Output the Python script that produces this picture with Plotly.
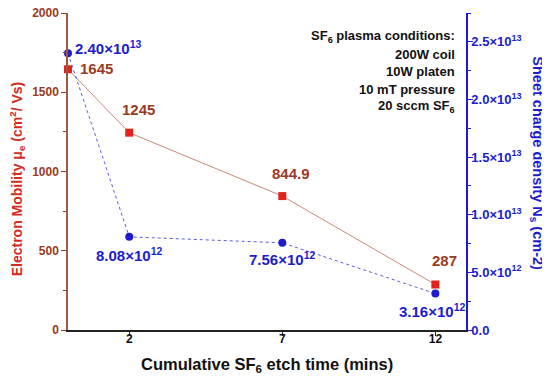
import plotly.graph_objects as go

etch_time = [0, 2, 7, 12]
mobility = [1645, 1245, 844.9, 287]
sheet_density = [2.40e13, 8.08e12, 7.56e12, 3.16e12]
mobility_labels = ["1645", "1245", "844.9", "287"]
density_labels = ["2.40×10<sup>13</sup>", "8.08×10<sup>12</sup>", "7.56×10<sup>12</sup>", "3.16×10<sup>12</sup>"]
x_ticks = [2, 7, 12]
y_tickvals = [0, 500, 1000, 1500, 2000]
y2_tickvals = [0, 5e12, 1.0e13, 1.5e13, 2.0e13, 2.5e13]
y2_ticktext = ["0.0", "5.0×10<sup>12</sup>", "1.0×10<sup>13</sup>", "1.5×10<sup>13</sup>",
               "2.0×10<sup>13</sup>", "2.5×10<sup>13</sup>"]
conditions = ["SF<sub>6</sub> plasma conditions:", "200W coil", "10W platen",
              "10 mT pressure", "20 sccm SF<sub>6</sub>"]

FONT = "Liberation Sans, Arial, sans-serif"
RED = "#e3231d"
BROWN = "#9a3b22"
BLUE = "#1c1ccf"

fig = go.Figure()
fig.add_trace(go.Scatter(x=etch_time, y=mobility, mode="lines+markers",
                         line=dict(color="#c98a78", width=1),
                         marker=dict(symbol="square", size=8, color=RED),
                         yaxis="y", showlegend=False, cliponaxis=False))
fig.add_trace(go.Scatter(x=etch_time, y=sheet_density, mode="lines+markers",
                         line=dict(color="#5a5ae0", width=1, dash="dot"),
                         marker=dict(symbol="circle", size=8, color=BLUE),
                         yaxis="y2", showlegend=False, cliponaxis=False))

ann = []
# mobility labels (pixel offsets relative to the points)
mob_off = [(28, -1), (9, -23), (9, -23), (9, -24)]
for x, y, t, (dx, dy) in zip(etch_time, mobility, mobility_labels, mob_off):
    ann.append(dict(x=x, y=y, xref="x", yref="y", text=t, showarrow=False,
                    xshift=dx, yshift=-dy, font=dict(family=FONT, size=15, color=BROWN, weight="bold")))
den_off = [(40, -6), (0, 18), (0, 16), (-3, 17)]
for x, y, t, (dx, dy) in zip(etch_time, sheet_density, density_labels, den_off):
    ann.append(dict(x=x, y=y, xref="x", yref="y2", text=t, showarrow=False,
                    xshift=dx, yshift=-dy, font=dict(family=FONT, size=15, color=BLUE, weight="bold")))

# plasma conditions text block
for i, line in enumerate(conditions):
    ann.append(dict(x=0.977, y=0.926 - i * 0.0555, xref="paper", yref="paper", xanchor="right",
                    yanchor="middle", text=line, showarrow=False,
                    font=dict(family=FONT, size=13, color="#111111", weight="bold")))

# axis titles
ann.append(dict(x=1.179, y=0.525, xref="paper", yref="paper", xanchor="center", yanchor="middle",
                text="Sheet charge density N<sub>s</sub> (cm-2)",
                textangle=90, showarrow=False,
                font=dict(family=FONT, size=14.5, color=BLUE, weight="bold")))
ann.append(dict(x=-0.126, y=0.478, xref="paper", yref="paper", xanchor="center", yanchor="middle",
                text="Electron Mobility μ<sub>e</sub> (cm<sup>2</sup>/ Vs)",
                textangle=-90, showarrow=False,
                font=dict(family=FONT, size=14, color="#d42b1e", weight="bold")))
ann.append(dict(x=0.5, y=-0.109, xref="paper", yref="paper", xanchor="center", yanchor="middle",
                text="Cumulative SF<sub>6</sub> etch time (mins)", showarrow=False,
                font=dict(family=FONT, size=16.5, color="#111", weight="bold")))

# the page body adds an 8px offset, so margins are shifted to compensate
fig.update_layout(
    width=550, height=385,
    margin=dict(l=60, r=92, t=5, b=63),
    paper_bgcolor="white", plot_bgcolor="white",
    font=dict(family=FONT),
    annotations=ann,
    xaxis=dict(range=[0, 13], tickvals=x_ticks, ticks="outside", ticklen=4, tickwidth=1,
               tickcolor="#222", showline=True, linecolor="#222", linewidth=1.5, showgrid=False,
               zeroline=False, automargin=False, ticklabelstandoff=-7,
               tickfont=dict(family=FONT, size=12, color="#111", weight="bold")),
    xaxis2=dict(range=[0, 13], overlaying="x", side="top", tickvals=x_ticks, ticks="inside",
                ticklen=5, tickcolor="#222", showticklabels=False, showline=True,
                linecolor="#222", linewidth=1.5, showgrid=False, zeroline=False, automargin=False),
    yaxis=dict(range=[0, 2000], tickvals=y_tickvals, ticks="outside", ticklen=5,
               tickcolor=BROWN, showline=True, linecolor="#a0583f", linewidth=1.5, showgrid=False,
               zeroline=False, automargin=False, ticklabeloverflow="allow",
               minor=dict(dtick=250, ticks="outside", ticklen=3, tickcolor=BROWN),
               tickfont=dict(family=FONT, size=12, color=BROWN, weight="bold")),
    yaxis2=dict(range=[0, 2.75e13], overlaying="y", side="right", tickvals=y2_tickvals,
                ticktext=y2_ticktext, ticks="outside", ticklen=5, tickcolor=BLUE,
                showline=True, linecolor=BLUE, linewidth=1.5, showgrid=False, zeroline=False,
                automargin=False, ticklabelstandoff=-4, ticklabeloverflow="allow",
                minor=dict(dtick=2.5e12, ticks="outside", ticklen=3, tickcolor=BLUE),
                tickfont=dict(family=FONT, size=13, color=BLUE, weight="bold")),
)
fig.write_html("out.html")
